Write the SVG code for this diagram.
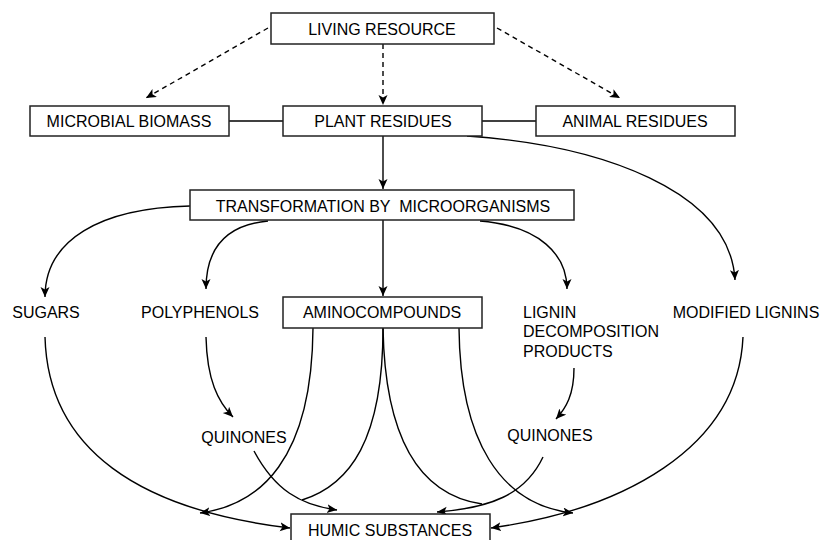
<svg xmlns="http://www.w3.org/2000/svg" width="823" height="540" viewBox="0 0 823 540">
<style>
.box{fill:#fff;stroke:#222;stroke-width:1.5}
.t{font-family:"Liberation Sans",Arial,sans-serif;font-size:16px;fill:#000;text-anchor:middle}
.tl{font-family:"Liberation Sans",Arial,sans-serif;font-size:16px;fill:#000}
.c{fill:none;stroke:#000;stroke-width:1.4}
.d{fill:none;stroke:#000;stroke-width:1.4;stroke-dasharray:5 4}
</style>
<defs>
<marker id="a" markerUnits="userSpaceOnUse" markerWidth="12" markerHeight="10" refX="10" refY="4.5" orient="auto">
<path d="M0,0 L10,4.5 L0,9 L2.5,4.5 z" fill="#000"/>
</marker>
</defs>
<rect width="823" height="540" fill="#fff"/>
<g id="connectors">
<path class="d" d="M268,28 L146,98" marker-end="url(#a)"/>
<path class="d" d="M383,44 L383,105" marker-end="url(#a)"/>
<path class="d" d="M497,28 L620,98" marker-end="url(#a)"/>
<path class="c" d="M229,121 L283,121"/>
<path class="c" d="M482,121 L536,121"/>
<path class="c" d="M383,136 L383,189" marker-end="url(#a)"/>
<path class="c" d="M467,136 C600,145 730,190 735,280" marker-end="url(#a)"/>
<path class="c" d="M190,206 C100,208 45,240 45,297" marker-end="url(#a)"/>
<path class="c" d="M268,221 C225,225 206,250 206,289" marker-end="url(#a)"/>
<path class="c" d="M383,220 L383,296" marker-end="url(#a)"/>
<path class="c" d="M480,221 C540,226 567,255 567,289" marker-end="url(#a)"/>
<path class="c" d="M45,337 C48,450 140,510 290,528" marker-end="url(#a)"/>
<path class="c" d="M206,337 C207,380 218,402 233,417" marker-end="url(#a)"/>
<path class="c" d="M254,451 C275,490 300,505 337,510" marker-end="url(#a)"/>
<path class="c" d="M313,328 C312,460 260,505 200,513" marker-end="url(#a)"/>
<path class="c" d="M383,328 C383,440 350,485 302,500"/>
<path class="c" d="M383,328 C385,440 420,495 482,504"/>
<path class="c" d="M459,328 C460,440 500,505 573,513" marker-end="url(#a)"/>
<path class="c" d="M574,368 C574,395 566,408 556,419" marker-end="url(#a)"/>
<path class="c" d="M543,457 C525,495 490,508 437,512" marker-end="url(#a)"/>
<path class="c" d="M743,337 C738,450 620,510 491,528" marker-end="url(#a)"/>
</g>
<g id="living-resource"><rect class="box" x="271" y="13" width="223" height="31"/><text class="t" x="382" y="35">LIVING RESOURCE</text></g>
<g id="microbial-biomass"><rect class="box" x="30" y="106" width="199" height="30"/><text class="t" x="129" y="127">MICROBIAL BIOMASS</text></g>
<g id="plant-residues"><rect class="box" x="283" y="106" width="199" height="30"/><text class="t" x="383" y="127">PLANT RESIDUES</text></g>
<g id="animal-residues"><rect class="box" x="536" y="106" width="199" height="30"/><text class="t" x="635" y="127">ANIMAL RESIDUES</text></g>
<g id="transformation"><rect class="box" x="190" y="190" width="384" height="30"/><text class="t" x="383" y="212" xml:space="preserve">TRANSFORMATION BY  MICROORGANISMS</text></g>
<g id="sugars"><text class="t" x="46" y="318">SUGARS</text></g>
<g id="polyphenols"><text class="t" x="200" y="318">POLYPHENOLS</text></g>
<g id="aminocompounds"><rect class="box" x="283" y="297" width="199" height="31"/><text class="t" x="382" y="318">AMINOCOMPOUNDS</text></g>
<g id="lignin-decomposition"><text class="tl" x="523" y="318">LIGNIN</text><text class="tl" x="523" y="337">DECOMPOSITION</text><text class="tl" x="523" y="357">PRODUCTS</text></g>
<g id="modified-lignins"><text class="t" x="746" y="318">MODIFIED LIGNINS</text></g>
<g id="quinones-left"><text class="t" x="244" y="443">QUINONES</text></g>
<g id="quinones-right"><text class="t" x="550" y="441">QUINONES</text></g>
<g id="humic-substances"><rect class="box" x="291" y="514" width="199" height="32"/><text class="t" x="390" y="536">HUMIC SUBSTANCES</text></g>
</svg>
